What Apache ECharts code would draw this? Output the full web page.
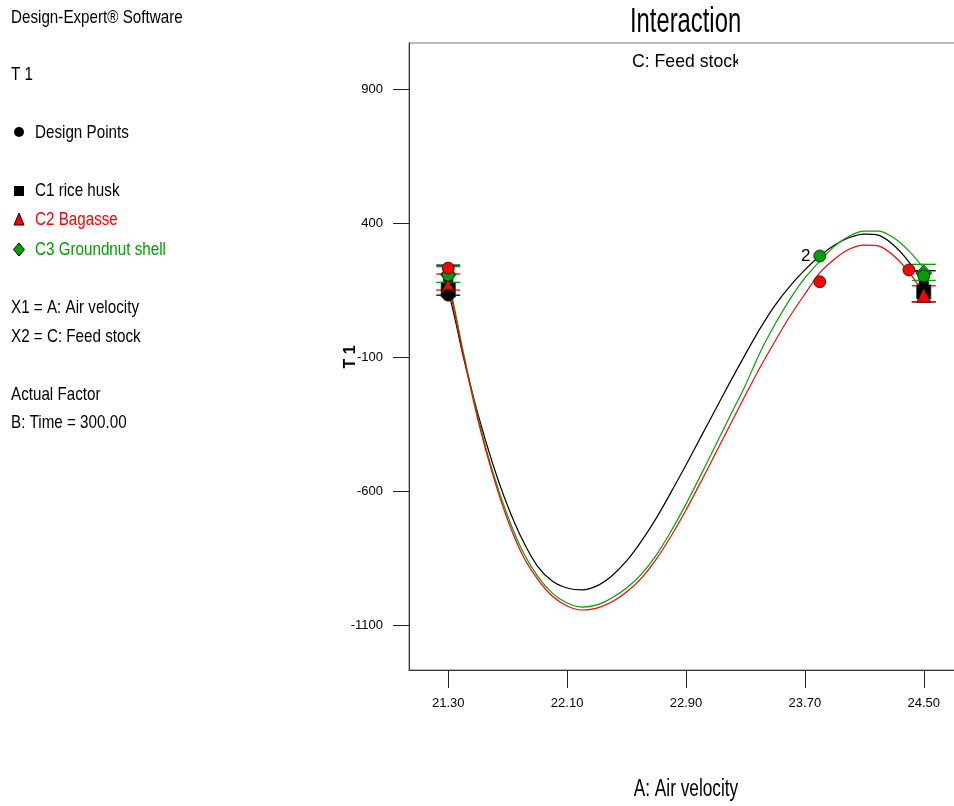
<!DOCTYPE html>
<html><head><meta charset="utf-8">
<script src="https://cdn.jsdelivr.net/npm/echarts@6/dist/echarts.min.js"></script>
<style>html,body{margin:0;padding:0;background:#fff;overflow:hidden}#c{width:954px;height:806px}</style>
</head><body><div id="c"></div>
<script>
// ---- data ----
const xTicks = [21.30, 22.10, 22.90, 23.70, 24.50];
const yTicks = [900, 400, -100, -600, -1100];
const xMin = 21.036, xMax = 24.764, yMin = -1268, yMax = 1072;

const curveX = [21.30, 21.35, 21.40, 21.50, 21.60, 21.70, 21.80, 21.90, 22.00, 22.10,
  22.20, 22.30, 22.40, 22.50, 22.60, 22.70, 22.80, 22.90, 23.00, 23.10,
  23.20, 23.30, 23.40, 23.50, 23.60, 23.70, 23.80, 23.90, 24.00, 24.10,
  24.20, 24.30, 24.40, 24.50];
const riceHusk = [150, 31, -96, -313, -499, -656, -783, -880, -936, -962,
  -969, -954, -917, -861, -787, -701, -604, -503, -398, -294,
  -190, -89, 8, 94, 165, 225, 277, 318, 346, 359,
  354, 316, 255, 176];
const bagasse = [176, 46, -89, -335, -540, -708, -839, -928, -992, -1029,
  -1044, -1037, -1014, -977, -925, -854, -768, -671, -566, -458,
  -350, -242, -137, -40, 53, 135, 214, 266, 303, 318,
  314, 277, 217, 139];
const groundnut = [202, 61, -78, -324, -529, -693, -824, -917, -981, -1018,
  -1033, -1025, -999, -962, -910, -839, -749, -649, -540, -428,
  -316, -205, -81, 23, 116, 195, 258, 314, 352, 370,
  370, 344, 296, 232];

// design points [A, T1]
const designRice = [[21.30, 131]];
const designBagasse = [[21.30, 232], [23.80, 181], [24.40, 225]];
const designGroundnut = [[21.30, 206], [23.80, 277], [24.50, 203]];
const designLabels = ['', '2', ''];
// predicted means (LSD bar centres)
const predRice = [[21.30, 150], [24.50, 143]];
const predBagasse = [[21.30, 165], [24.50, 131]];
const predGroundnut = [[21.30, 208], [24.50, 213]];
// LSD bars [A, low, high]
const lsdRice = [[21.30, 131, 243], [24.50, 106, 222]];
const lsdBagasse = [[21.30, 150, 210], [24.50, 106, 166]];
const lsdGroundnut = [[21.30, 179, 237], [24.50, 186, 246]];

const BLACK = '#000000', RED = '#ff0000', GREEN = '#00a000';
const SANS = '"Liberation Sans",Arial,sans-serif';

const chart = echarts.init(document.getElementById('c'), null, {renderer: 'canvas'});

function zipXY(xs, ys) { return xs.map((x, i) => [x, ys[i]]); }

function lsdSeries(data, color, thick) {
  return {
    type: 'custom', z: 3, silent: true, clip: false,
    data: data,
    renderItem: function (params, api) {
      const x = api.value(0);
      const lo = api.coord([x, api.value(1)]);
      const hi = api.coord([x, api.value(2)]);
      const children = [];
      if (thick) {
        children.push({type: 'rect', shape: {x: lo[0] - 5, y: hi[1], width: 10, height: lo[1] - hi[1]},
          style: {fill: BLACK}});
      } else {
        children.push({type: 'line', shape: {x1: lo[0], y1: lo[1], x2: hi[0], y2: hi[1]},
          style: {stroke: color, lineWidth: 1}});
      }
      children.push({type: 'line', shape: {x1: lo[0] - 12, y1: lo[1], x2: lo[0] + 12, y2: lo[1]},
        style: {stroke: color, lineWidth: 1.3}});
      children.push({type: 'line', shape: {x1: hi[0] - 12, y1: hi[1], x2: hi[0] + 12, y2: hi[1]},
        style: {stroke: color, lineWidth: 1.3}});
      return {type: 'group', children: children};
    }
  };
}

function curve(data, color, z) {
  return {type: 'line', data: zipXY(curveX, data), smooth: 0.25, showSymbol: false, symbol: 'none',
    lineStyle: {color: color, width: 1.2}, z: z, silent: true, animation: false};
}

function pts(data, symbol, size, color, z, labels) {
  return {type: 'scatter', symbol: symbol, symbolSize: size, z: z, silent: true,
    data: data.map((d, i) => ({value: d, label: labels && labels[i] ? {show: true, formatter: labels[i]} : {show: false}})),
    itemStyle: {color: color, borderColor: '#111', borderWidth: 0.8, opacity: 1},
    label: {position: 'left', distance: 3, color: '#000', fontFamily: SANS, fontSize: 17}};
}

const texts = [];
function t(x, y, text, color, size, sx, align) {
  texts.push({type: 'text', x: x, y: y, scaleX: sx || 0.8, silent: true,
    style: {text: text, fill: color || '#000', font: (size || 19) + 'px ' + SANS,
      align: align || 'left', verticalAlign: 'middle'}});
}
t(11, 18, 'Design-Expert® Software');
t(11, 75, 'T 1');
t(35, 133, 'Design Points');
t(35, 191, 'C1 rice husk');
t(35, 220, 'C2 Bagasse', RED);
t(35, 250, 'C3 Groundnut shell', GREEN);
t(11, 308, 'X1 = A: Air velocity');
t(11, 337, 'X2 = C: Feed stock');
t(11, 395, 'Actual Factor');
t(11, 423, 'B: Time = 300.00');
t(630, 22, 'Interaction', '#000', 35, 0.68);
t(632, 62, 'C: Feed stock', '#000', 19, 0.93);
t(686, 790, 'A: Air velocity', '#000', 23, 0.75, 'center');

const graphics = texts.concat([
  {type: 'circle', shape: {cx: 19, cy: 132, r: 5}, style: {fill: '#000'}},
  {type: 'rect', shape: {x: 14, y: 186, width: 10, height: 10}, style: {fill: '#000'}},
  {type: 'polygon', shape: {points: [[19, 213], [24, 225], [14, 225]]}, style: {fill: RED, stroke: '#000', lineWidth: 1}},
  {type: 'polygon', shape: {points: [[19, 243], [24.5, 249.5], [19, 256], [13.5, 249.5]]}, style: {fill: GREEN, stroke: '#000', lineWidth: 1}},
  {type: 'rect', shape: {x: 738, y: 48, width: 60, height: 28}, style: {fill: '#fff'}, z: 100},
  {type: 'text', x: 351, y: 357, rotation: Math.PI / 2, silent: true,
    style: {text: 'T 1', font: 'bold 16px ' + SANS, fill: '#000', align: 'center', verticalAlign: 'middle'}}
]);

const option = {
  animation: false,
  backgroundColor: '#fff',
  grid: {left: 409, top: 43, width: 554, height: 627, outerBoundsMode: 'none', containLabel: false,
    show: true, borderColor: '#777', borderWidth: 1, backgroundColor: 'transparent'},
  xAxis: {type: 'value', min: xMin, max: xMax,
    axisLine: {show: true, onZero: false, lineStyle: {color: '#333', width: 1}},
    axisTick: {show: true, length: 18, customValues: xTicks, lineStyle: {color: '#222'}},
    axisLabel: {customValues: xTicks, formatter: v => v.toFixed(2), margin: 27, color: '#000', fontFamily: SANS, fontSize: 13},
    splitLine: {show: false}},
  yAxis: {type: 'value', min: yMin, max: yMax,
    axisLine: {show: true, onZero: false, lineStyle: {color: '#333', width: 1}},
    axisTick: {show: true, length: 16, customValues: yTicks, lineStyle: {color: '#222'}},
    axisLabel: {customValues: yTicks, formatter: v => String(v), margin: 26, color: '#000', fontFamily: SANS, fontSize: 13},
    splitLine: {show: false}},
  graphic: graphics,
  series: [
    curve(riceHusk, BLACK, 2),
    curve(groundnut, GREEN, 2),
    curve(bagasse, RED, 2),
    lsdSeries(lsdRice, BLACK, true),
    lsdSeries(lsdGroundnut, GREEN, false),
    lsdSeries(lsdBagasse, RED, false),
    pts(predRice, 'rect', 14, BLACK, 5),
    pts(predGroundnut, 'diamond', 16, GREEN, 5),
    pts(predBagasse, 'triangle', 14, RED, 6),
    pts(designRice, 'circle', 12, BLACK, 7),
    pts(designGroundnut, 'circle', 12, GREEN, 7, designLabels),
    pts(designBagasse, 'circle', 12, RED, 8)
  ]
};
chart.setOption(option);
</script></body></html>
